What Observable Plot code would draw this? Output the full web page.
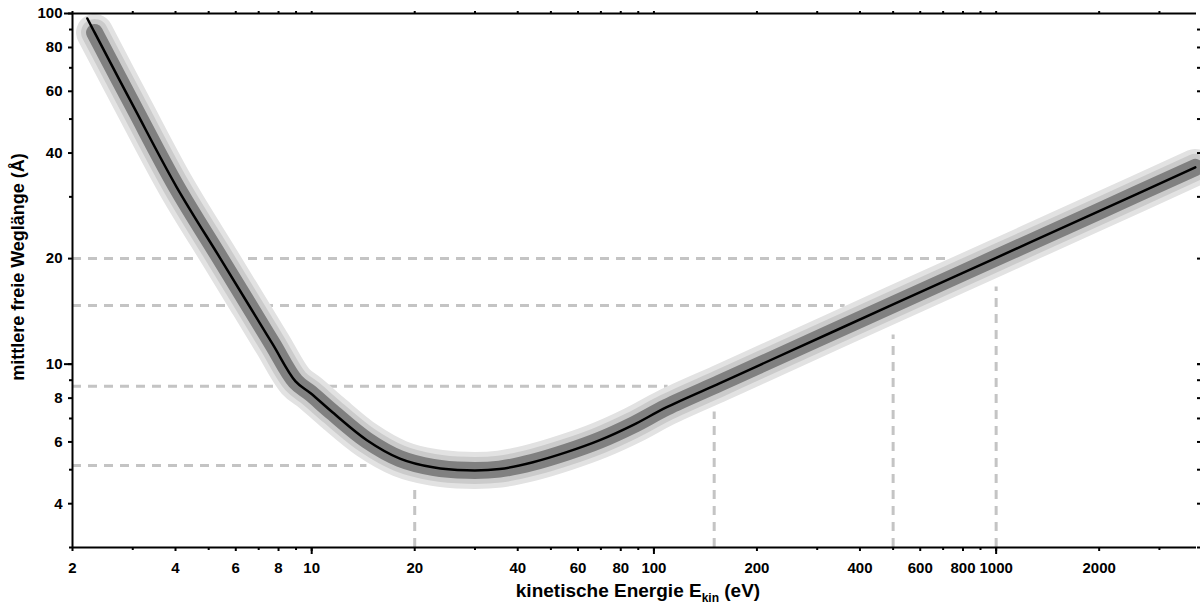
<!DOCTYPE html>
<html><head><meta charset="utf-8">
<script src="https://cdn.jsdelivr.net/npm/d3@7"></script>
<script src="https://cdn.jsdelivr.net/npm/@observablehq/plot@0.6"></script>
<style>body{margin:0;background:#fff}</style>
</head><body><div id="chart"></div>
<script>
// Universal curve: kinetic energy (eV) vs. inelastic mean free path (Å)
const energy = [2.21, 2.32, 3.03, 4.03, 5.41, 6.56, 7.69, 8.97, 9.93, 11.5, 14.5, 18.1, 22.6, 28.4, 35.4, 44.3, 55.6, 69.5, 86.8, 109, 156, 200, 500, 1000, 2000, 3819];
const lambda = [96.8, 88.3, 53.8, 32.0, 20.0, 14.7, 11.4, 8.93, 8.26, 7.29, 6.07, 5.38, 5.08, 4.98, 5.02, 5.25, 5.61, 6.07, 6.70, 7.54, 8.83, 9.86, 14.8, 20.1, 27.3, 36.4];

// Guide lines
const hGuideY = [20, 14.7, 8.65, 5.14];
const hGuideXEnd = [733, 362, 110, 14.5];
const vGuideX = [20, 150, 500, 1000];
const vGuideYEnd = [4.46, 7.3, 12.1, 16.6];

// Ticks
const xTickDecade = [10, 100, 1000];
const xTickLabeled = [2, 4, 6, 8, 10, 20, 40, 60, 80, 100, 200, 400, 600, 800, 1000, 2000];
const xTickMinor = [3, 5, 7, 9, 30, 50, 70, 90, 300, 500, 700, 900, 3000];
const yTickDecade = [10, 100];
const yTickLabeled = [4, 6, 8, 10, 20, 40, 60, 80, 100];
const yTickMinor = [3, 5, 7, 9, 30, 50, 70, 90];

const xDomain = [2, 3850];
const yDomain = [3, 100];

const curve = energy.map((e, i) => ({e, l: lambda[i]}));
const bandCurve = curve.slice(1);
const hGuides = hGuideY.map((y, i) => ({y, x2: hGuideXEnd[i]}));
const vGuides = vGuideX.map((x, i) => ({x, y2: vGuideYEnd[i]}));

const dash = {stroke: "#c4c4c4", strokeWidth: 3, strokeDasharray: "9,7"};
const line = (data, w, c) => Plot.line(data, {x: "e", y: "l", stroke: c, strokeWidth: w, strokeLinecap: "round", strokeLinejoin: "round", curve: "catmull-rom"});
const noText = () => "";
const label = d => String(d);
const font = "'Liberation Sans', Arial, sans-serif";

const chart = Plot.plot({
  width: 1200,
  height: 604,
  marginLeft: 72,
  marginRight: 4,
  marginTop: 13,
  marginBottom: 57,
  style: {fontFamily: font, fontSize: "15px", fontWeight: "bold", color: "#000", background: "#fff"},
  x: {type: "log", domain: xDomain},
  y: {type: "log", domain: yDomain},
  marks: [
    Plot.ruleY(hGuides, {y: "y", x1: 2, x2: "x2", ...dash}),
    Plot.ruleX(vGuides, {x: "x", y1: 3, y2: "y2", ...dash}),
    line(bandCurve, 37, "#e2e2e2"),
    line(bandCurve, 27, "#cbcbcb"),
    line(bandCurve, 17, "#808080"),
    line(curve, 2.5, "#000"),
    // frame lines
    Plot.ruleX([2], {stroke: "#000", strokeWidth: 2}),
    Plot.ruleY([3], {stroke: "#000", strokeWidth: 2}),
    Plot.ruleY([100], {stroke: "#000", strokeWidth: 2}),
    // bottom axis
    Plot.axisX(xTickLabeled, {anchor: "bottom", tickSize: 4, tickPadding: 11, text: label, label: null, strokeWidth: 2, fontSize: 15, fontWeight: "bold"}),
    Plot.axisX(xTickDecade, {anchor: "bottom", tickSize: 7, tickFormat: noText, label: null, strokeWidth: 2}),
    Plot.axisX(xTickMinor, {anchor: "bottom", tickSize: 3, tickFormat: noText, label: null, strokeWidth: 2}),
    // top axis
    Plot.axisX([...xTickLabeled, ...xTickMinor], {anchor: "top", tickSize: 3, tickFormat: noText, label: null, strokeWidth: 2}),
    // left axis
    Plot.axisY(yTickLabeled, {anchor: "left", tickSize: 4, tickPadding: 6, text: label, label: null, strokeWidth: 2, fontSize: 15, fontWeight: "bold"}),
    Plot.axisY(yTickDecade, {anchor: "left", tickSize: 8, tickFormat: noText, label: null, strokeWidth: 2}),
    Plot.axisY(yTickMinor, {anchor: "left", tickSize: 3, tickFormat: noText, label: null, strokeWidth: 2}),
    // right axis
    Plot.axisY([...yTickLabeled.filter(d => d < 100), ...yTickMinor], {anchor: "right", tickSize: 3, tickFormat: noText, label: null, strokeWidth: 2}),
    Plot.axisY([10], {anchor: "right", tickSize: 6, tickFormat: noText, label: null, strokeWidth: 2})
  ]
});

const svg = d3.select(chart);
const xt = svg.append("text")
  .attr("x", 638).attr("y", 597)
  .attr("text-anchor", "middle")
  .style("font-family", font)
  .style("font-size", "19px").style("font-weight", "bold").attr("fill", "#000");
xt.append("tspan").text("kinetische Energie E");
xt.append("tspan").attr("dy", 5).style("font-size", "12px").text("kin");
xt.append("tspan").attr("dy", -5).text(" (eV)");

svg.append("text")
  .attr("transform", "translate(24,267) rotate(-90)")
  .attr("text-anchor", "middle")
  .style("font-family", font)
  .style("font-size", "18px").style("font-weight", "bold").attr("fill", "#000")
  .text("mittlere freie Weglänge (Å)");

document.getElementById("chart").appendChild(chart);
</script>
</body></html>
